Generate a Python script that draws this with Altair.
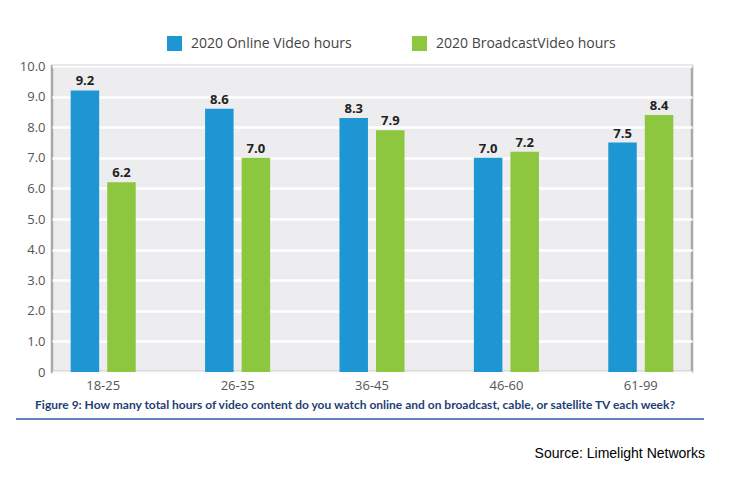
import altair as alt
import pandas as pd

categories = ["18-25", "26-35", "36-45", "46-60", "61-99"]
online = [9.2, 8.6, 8.3, 7.0, 7.5]
broadcast = [6.2, 7.0, 7.9, 7.2, 8.4]
series = ["2020 Online Video hours", "2020 BroadcastVideo hours"]
colors = ["#1E96D4", "#8DC63F"]
y_ticks = [0, 1, 2, 3, 4, 5, 6, 7, 8, 9, 10]
caption = ["Figure 9: How many total hours of video content do you watch online and on broadcast, cable, or satellite TV each week?"]
source = ["Source: Limelight Networks"]

rows = []
for c, o, b in zip(categories, online, broadcast):
    rows.append({"age": c, "series": series[0], "hours": o})
    rows.append({"age": c, "series": series[1], "hours": b})
df = pd.DataFrame(rows)

W, H = 640, 306

x = alt.X(
    "age:N",
    sort=categories,
    scale=alt.Scale(paddingInner=0.516, paddingOuter=0.139),
    axis=alt.Axis(title=None, labelAngle=0, ticks=False, domain=False,
                  labelFontSize=13, labelColor="#555555", labelPadding=7,
                  labelFont="Open Sans"),
)
xo = alt.XOffset("series:N", sort=series,
                 scale=alt.Scale(paddingInner=0.22, paddingOuter=0))
y = alt.Y(
    "hours:Q",
    scale=alt.Scale(domain=[0, 10], nice=False),
    axis=alt.Axis(title=None, values=y_ticks, ticks=False, domain=False,
                  labelExpr="datum.value == 0 ? '0' : format(datum.value, '.1f')",
                  labelFontSize=13, labelColor="#555555", labelPadding=7,
                  labelFont="Open Sans", gridColor="#FFFFFF", gridWidth=2.5,
                  gridOpacity=1),
)

bars = alt.Chart(df).mark_bar().encode(
    x=x, xOffset=xo, y=y,
    color=alt.Color(
        "series:N", sort=series,
        scale=alt.Scale(domain=series, range=colors),
        legend=alt.Legend(title=None, orient="none", direction="horizontal",
                          legendX=115, legendY=-30, symbolType="square",
                          symbolSize=225, symbolStrokeWidth=0, symbolOpacity=1,
                          labelFontSize=14, labelColor="#444444",
                          labelFont="Open Sans", labelOffset=9,
                          labelLimit=400, columnPadding=60),
    ),
)

labels = alt.Chart(df).mark_text(
    dy=-9, fontWeight="bold", fontSize=13, color="#222222", font="Open Sans"
).encode(x=x, xOffset=xo, y=y, text=alt.Text("hours:Q", format=".1f"))

cap = alt.Chart(pd.DataFrame({"t": caption})).mark_text(
    fontWeight="bold", fontSize=12, color="#1F3F73", font="Lato", align="center",
    baseline="middle"
).encode(x=alt.value(303), y=alt.value(339), text="t:N")

rule = alt.Chart(pd.DataFrame({"t": caption})).mark_rule(
    color="#2A5CAA", strokeWidth=1.5
).encode(x=alt.value(-36), x2=alt.value(652), y=alt.value(353))

src = alt.Chart(pd.DataFrame({"t": source})).mark_text(
    fontSize=14, color="#000000", font="Liberation Sans", align="right",
    baseline="middle"
).encode(x=alt.value(653), y=alt.value(388), text="t:N")

chart = alt.layer(bars, labels, cap, rule, src).properties(
    width=W, height=H,
    autosize=alt.AutoSizeParams(type="none"),
    padding={"left": 44, "top": 58, "right": 34, "bottom": 92},
).configure_view(
    fill="#EDEDEF", stroke="#A8A8A8", strokeWidth=2.5
)

chart.save("out.html", embed_options={"renderer": "svg", "actions": False})
